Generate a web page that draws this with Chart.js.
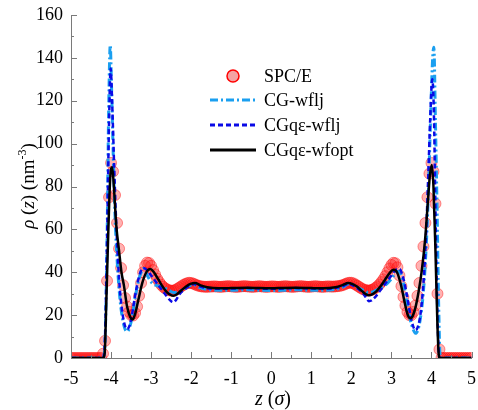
<!DOCTYPE html>
<html><head><meta charset="utf-8">
<script src="https://cdn.jsdelivr.net/npm/chart.js@4.4.0/dist/chart.umd.min.js"></script>
<style>html,body{margin:0;padding:0;background:#fff}#wrap{width:478px;height:410px;position:relative}</style>
</head><body><div id="wrap"><canvas id="c" width="478" height="410"></canvas></div>
<script>
// ---------------- DATA ----------------
const spceZ = [
-5.00,-4.95,-4.90,-4.85,-4.80,-4.75,-4.70,-4.65,-4.60,-4.55,
-4.50,-4.45,-4.40,-4.35,-4.30,-4.25,-4.20,-4.15,-4.10,-4.05,
-4.00,-3.95,-3.90,-3.85,-3.80,-3.75,-3.70,-3.65,-3.60,-3.55,
-3.50,-3.45,-3.40,-3.35,-3.30,-3.25,-3.20,-3.15,-3.10,-3.05,
-3.00,-2.95,-2.90,-2.85,-2.80,-2.75,-2.70,-2.65,-2.60,-2.55,
-2.50,-2.45,-2.40,-2.35,-2.30,-2.25,-2.20,-2.15,-2.10,-2.05,
-2.00,-1.95,-1.90,-1.85,-1.80,-1.75,-1.70,-1.65,-1.60,-1.55,
-1.50,-1.45,-1.40,-1.35,-1.30,-1.25,-1.20,-1.15,-1.10,-1.05,
-1.00,-0.95,-0.90,-0.85,-0.80,-0.75,-0.70,-0.65,-0.60,-0.55,
-0.50,-0.45,-0.40,-0.35,-0.30,-0.25,-0.20,-0.15,-0.10,-0.05,
0.00,0.05,0.10,0.15,0.20,0.25,0.30,0.35,0.40,0.45,
0.50,0.55,0.60,0.65,0.70,0.75,0.80,0.85,0.90,0.95,
1.00,1.05,1.10,1.15,1.20,1.25,1.30,1.35,1.40,1.45,
1.50,1.55,1.60,1.65,1.70,1.75,1.80,1.85,1.90,1.95,
2.00,2.05,2.10,2.15,2.20,2.25,2.30,2.35,2.40,2.45,
2.50,2.55,2.60,2.65,2.70,2.75,2.80,2.85,2.90,2.95,
3.00,3.05,3.10,3.15,3.20,3.25,3.30,3.35,3.40,3.45,
3.50,3.55,3.60,3.65,3.70,3.75,3.80,3.85,3.90,3.95,
4.00,4.05,4.10,4.15,4.20,4.25,4.30,4.35,4.40,4.45,
4.50,4.55,4.60,4.65,4.70,4.75,4.80,4.85,4.90,4.95,
5.00];
const spceRho = [
0,0,0,0,0,0,0,0,0,0,
0,0,0,0,0,0,2,8,36,75,
91,87,76,63,51,42,34,28,24,21.5,
20,19.8,21,24,29,35,40,43,44.5,44.3,
43,41,39,37,35.5,34.2,33.2,32.5,32,31.6,
31.4,31.4,31.7,32.2,32.8,33.4,34,34.5,34.9,35.1,
35,34.7,34.3,33.9,33.6,33.4,33.3,33.2,33.2,33.3,
33.3,33.4,33.4,33.3,33.2,33.2,33.3,33.4,33.5,33.5,
33.4,33.3,33.2,33.2,33.3,33.4,33.5,33.5,33.4,33.3,
33.2,33.2,33.3,33.4,33.5,33.4,33.3,33.2,33.2,33.3,
33.4,33.4,33.3,33.2,33.2,33.3,33.4,33.5,33.4,33.3,
33.2,33.2,33.3,33.4,33.5,33.5,33.4,33.3,33.2,33.2,
33.3,33.4,33.5,33.4,33.3,33.2,33.2,33.3,33.4,33.4,
33.3,33.3,33.4,33.5,33.6,33.8,34.1,34.5,34.9,35.1,
35.1,34.8,34.3,33.7,33.1,32.5,32,31.7,31.5,31.5,
31.7,32.1,32.7,33.4,34.3,35.4,36.7,38.2,40,41.8,
43.4,44.4,44.2,42.3,38.5,33.5,28.5,24.5,21.5,20,
20,21.5,24.5,29,35,43,52,63,75,86,
91,87,72,30,4,0,0,0,0,0,
0,0,0,0,0,0,0,0,0,0,
0];

const cgZ = [-5,-4.2,-4.15,-4.1,-4.06,-4.02,-3.99,-3.95,-3.9,-3.84,-3.78,-3.72,-3.66,-3.6,-3.54,-3.47,-3.39,-3.3,-3.18,-3.08,-2.98,-2.85,-2.7,-2.55,-2.43,-2.3,-2.15,-2.03,-1.93,-1.8,-1.6,-1.3,-1.0,-0.6,-0.3,0,0.3,0.6,1.0,1.3,1.6,1.8,1.93,2.03,2.15,2.3,2.43,2.55,2.7,2.85,2.98,3.08,3.18,3.3,3.39,3.47,3.54,3.6,3.66,3.72,3.78,3.84,3.9,3.96,4.0,4.03,4.06,4.1,4.14,4.18,4.22,5];
const cgRho = [0,0,8,55,115,146,128,98,66,43,28,19,14,12.3,14,19.5,29,37,41.8,38,35,33.8,33,31.5,30.5,31,32.5,33.8,34.2,33,32,31.6,31.6,31.8,31.6,31.5,31.6,31.8,31.6,31.6,32,33.2,34.5,34.2,33,31.5,30.5,31,32.5,34,36.5,39,40.5,35,26,18,13.5,11.5,13,18,27,42,65,100,125,140,145,110,70,25,0,0];

const cgqZ = [-5,-4.2,-4.15,-4.1,-4.05,-4.01,-3.97,-3.92,-3.86,-3.8,-3.73,-3.66,-3.6,-3.54,-3.47,-3.4,-3.3,-3.2,-3.1,-3.0,-2.9,-2.8,-2.7,-2.6,-2.5,-2.44,-2.38,-2.3,-2.2,-2.05,-1.93,-1.8,-1.6,-1.3,-1.0,-0.6,-0.3,0,0.3,0.6,1.0,1.3,1.6,1.8,1.93,2.05,2.2,2.3,2.38,2.44,2.5,2.6,2.7,2.8,2.9,3.0,3.1,3.2,3.3,3.4,3.47,3.54,3.6,3.66,3.73,3.8,3.86,3.92,3.97,4.02,4.06,4.1,4.15,4.2,5];
const cgqRho = [0,0,10,55,110,135,118,88,58,37,23,15.5,13.5,15,21,29,38,42,41,38.5,36,33.5,31,28.5,26.5,26,27,29.5,31.5,33.5,34.5,33.5,32.5,32.3,32.4,32.6,32.4,32.3,32.4,32.6,32.4,32.3,32.6,33.6,34.6,33.8,31.8,30,27.8,26.5,26.8,28.5,31,33.5,36,38.5,41,41.5,37,28,20.5,15,13,14.5,21,35,55,85,112,130,115,70,20,0,0];

const optZ = [-5,-4.2,-4.16,-4.12,-4.07,-4.02,-3.97,-3.93,-3.87,-3.8,-3.74,-3.68,-3.6,-3.52,-3.46,-3.4,-3.32,-3.22,-3.12,-3.02,-2.93,-2.83,-2.72,-2.62,-2.52,-2.44,-2.35,-2.25,-2.12,-2.0,-1.9,-1.78,-1.6,-1.3,-1.0,-0.6,-0.3,0,0.3,0.6,1.0,1.3,1.6,1.78,1.92,2.02,2.14,2.26,2.36,2.44,2.53,2.63,2.73,2.84,2.95,3.05,3.14,3.24,3.33,3.41,3.47,3.53,3.6,3.68,3.76,3.84,3.9,3.96,4.01,4.05,4.1,4.15,4.18,4.2,5];
const optRho = [0,0,2,25,58,84,89,80,62,50,40,34,24,19,18,20.5,27,35,40,41.5,40,37,33.5,31,29.5,29,29.8,31.5,33.5,34.7,35,34,33,32.5,32.6,32.8,32.6,32.5,32.7,32.8,32.6,32.5,33,34,35,34.6,33.3,31.3,29.8,29.3,29.8,31.2,33.5,36.5,39.5,41.2,40,34,26,20,18.5,19.5,23.5,31,41,55,70,85,90,80,50,15,2,0,0];

const seriesLabels = ['SPC/E','CG-wflj','CGq\u03b5-wflj','CGq\u03b5-wfopt'];
const xMin = -5, xMax = 5, xStep = 1, xMinor = 0.5;
const yMin = 0, yMax = 160, yStep = 20, yMinor = 10;

const pts = (zs, vs) => zs.map((z, i) => ({x: z, y: vs[i]}));

const SERIF = '"Liberation Serif", "Times New Roman", serif';
const COL_SPCE_FILL = 'rgba(255,20,20,0.33)';
const COL_SPCE_EDGE = 'rgba(255,0,0,0.42)';
const COL_CG = '#1a9ff0';
const COL_CGQ = '#0a0ae6';
const COL_OPT = '#000000';

const decor = {
  id: 'decor',
  afterDatasetsDraw(chart) {
    const {ctx, scales: {x, y}, chartArea: ca} = chart;
    ctx.save();
    ctx.strokeStyle = '#7a7a7a';
    ctx.lineWidth = 1;
    ctx.beginPath();
    for (let v = xMin; v <= xMax + 1e-9; v += xMinor) {
      const px = Math.round(x.getPixelForValue(v)) + 0.5;
      const major = Math.abs(v - Math.round(v)) < 1e-6;
      const len = major ? 6 : 3;
      ctx.moveTo(px, ca.bottom);
      ctx.lineTo(px, ca.bottom - len);
    }
    for (let v = yMin; v <= yMax + 1e-9; v += yMinor) {
      const py = Math.round(y.getPixelForValue(v)) + 0.5;
      const major = (v % yStep) === 0;
      const len = major ? 6 : 3;
      ctx.moveTo(ca.left, py);
      ctx.lineTo(ca.left + len, py);
    }
    ctx.stroke();
    ctx.restore();
  },
  afterDraw(chart) {
    const ctx = chart.ctx;
    ctx.save();
    // legend
    const lx0 = 210, lx1 = 256, tx = 264;
    const rows = [76, 100, 125, 150];
    ctx.font = '18px ' + SERIF;
    ctx.textBaseline = 'middle';
    ctx.textAlign = 'left';
    ctx.beginPath();
    ctx.arc(233, rows[0], 6, 0, Math.PI * 2);
    ctx.fillStyle = '#f4a3a3';
    ctx.fill();
    ctx.strokeStyle = '#ff0000';
    ctx.lineWidth = 1.5;
    ctx.stroke();
    const lineRows = [
      {c: COL_CG, w: 3, d: [8, 3, 2, 3]},
      {c: COL_CGQ, w: 3, d: [5, 3]},
      {c: COL_OPT, w: 3, d: []}
    ];
    lineRows.forEach((r, i) => {
      ctx.beginPath();
      ctx.setLineDash(r.d);
      ctx.strokeStyle = r.c;
      ctx.lineWidth = r.w;
      ctx.moveTo(lx0, rows[i + 1]);
      ctx.lineTo(lx1, rows[i + 1]);
      ctx.stroke();
    });
    ctx.setLineDash([]);
    ctx.fillStyle = '#000';
    seriesLabels.forEach((t, i) => ctx.fillText(t, tx, rows[i] + 1));

    const drawPieces = (pieces, cx, cy) => {
      let total = 0;
      pieces.forEach(p => { ctx.font = p.f; p.w = ctx.measureText(p.t).width; total += p.w; });
      let x0 = cx - total / 2;
      ctx.textAlign = 'left';
      ctx.textBaseline = 'alphabetic';
      pieces.forEach(p => { ctx.font = p.f; ctx.fillText(p.t, x0, cy + (p.dy || 0)); x0 += p.w; });
    };
    const N = '19px ' + SERIF, I = 'italic 19px ' + SERIF, S = '12px ' + SERIF;
    const N2 = '20px ' + SERIF, I2 = 'italic 20px ' + SERIF;
    ctx.fillStyle = '#000';
    drawPieces([{t:'z', f:I2}, {t:' (', f:N2}, {t:'\u03c3', f:I2}, {t:')', f:N2}], 273, 405);
    ctx.save();
    ctx.translate(34, 186);
    ctx.rotate(-Math.PI / 2);
    drawPieces([{t:'\u03c1', f:I}, {t:' (', f:N}, {t:'z', f:I}, {t:') (nm', f:N}, {t:'-3', f:S, dy:-8}, {t:')', f:N}], 0, 0);
    ctx.restore();
    ctx.restore();
  }
};

new Chart(document.getElementById('c'), {
  type: 'scatter',
  data: {
    datasets: [
      {label: seriesLabels[3], data: pts(optZ, optRho), showLine: true, borderColor: COL_OPT, borderWidth: 2.5, pointRadius: 0, cubicInterpolationMode: 'monotone', order: 1},
      {label: seriesLabels[2], data: pts(cgqZ, cgqRho), showLine: true, borderColor: COL_CGQ, borderWidth: 2.5, borderDash: [5, 3], pointRadius: 0, cubicInterpolationMode: 'monotone', order: 2},
      {label: seriesLabels[1], data: pts(cgZ, cgRho), showLine: true, borderColor: COL_CG, borderWidth: 3, borderDash: [8, 3, 2, 3], pointRadius: 0, cubicInterpolationMode: 'monotone', order: 3},
      {label: seriesLabels[0], data: pts(spceZ, spceRho), showLine: false, pointRadius: 5.5, pointBackgroundColor: COL_SPCE_FILL, pointBorderColor: COL_SPCE_EDGE, pointBorderWidth: 1, order: 4, clip: 0}
    ]
  },
  options: {
    responsive: false,
    animation: false,
    layout: {padding: {top: 15, right: 4, left: 0, bottom: 0}},
    plugins: {legend: {display: false}, tooltip: {enabled: false}},
    scales: {
      x: {
        type: 'linear', min: xMin, max: xMax,
        grid: {display: false, drawTicks: false},
        border: {display: true, color: '#7a7a7a', width: 1},
        ticks: {stepSize: xStep, color: '#000', padding: 10, font: {family: SERIF, size: 18}, maxRotation: 0},
        afterFit: s => { s.height = 52; s.paddingLeft = 0; s.paddingRight = 0; }
      },
      y: {
        type: 'linear', min: yMin, max: yMax,
        grid: {display: false, drawTicks: false},
        border: {display: true, color: '#7a7a7a', width: 1},
        ticks: {stepSize: yStep, color: '#000', padding: 8, font: {family: SERIF, size: 18}},
        afterFit: s => { s.width = 71; s.paddingTop = 0; s.paddingBottom = 0; }
      }
    }
  },
  plugins: [decor]
});
</script>
</body></html>
